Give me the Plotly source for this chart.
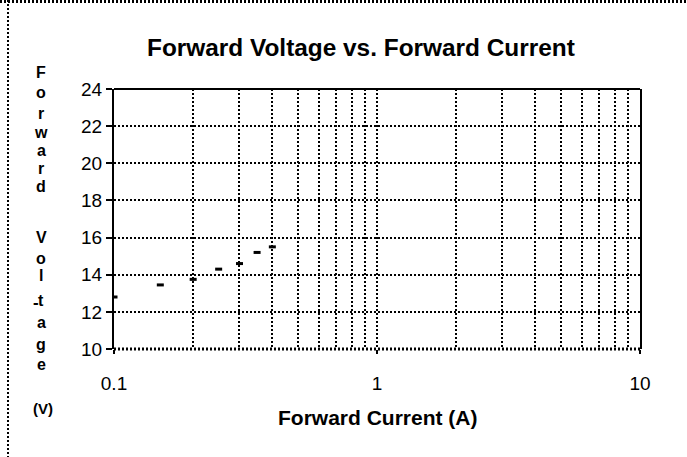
import plotly.graph_objects as go

# ---- data ----
current_a = [0.1, 0.15, 0.2, 0.25, 0.3, 0.35, 0.4]
voltage_v = [12.8, 13.45, 13.75, 14.3, 14.6, 15.2, 15.5]

x_tick_vals = [0.1, 1, 10]
x_tick_text = ["0.1", "1", "10"]
x_minor_vals = [m * 10 ** e for e in (-1, 0) for m in range(2, 10)]
y_tick_vals = [10, 12, 14, 16, 18, 20, 22, 24]

title_text = "Forward Voltage vs. Forward Current"
x_title = "Forward Current (A)"
y_title_letters = ["F", "o", "r", "w", "a", "r", "d", "V", "o", "l", "t", "a", "g", "e"]
y_title_centers = [72, 93, 113, 132, 150, 168, 186, 237, 258, 275, 300, 322, 344, 364]

# ---- layout geometry (pixels) ----
W, H = 687, 457
L, R, T, B = 114, 47, 89, 108
PW, PH = W - L - R, H - T - B


def px(x):
    return (x - L) / PW


def py(y):
    return (H - B - y) / PH


FONT = "Arial, 'Liberation Sans', sans-serif"
DOT = "2px,2px"

fig = go.Figure()
fig.add_trace(go.Scatter(
    x=current_a, y=voltage_v, mode="markers",
    marker=dict(symbol="line-ew", size=5, color="black",
                line=dict(width=3, color="black")),
    showlegend=False, hoverinfo="skip",
))

annotations = []
for ch, yc in zip(y_title_letters, y_title_centers):
    annotations.append(dict(text=f"<b>{ch}</b>", x=px(41), y=py(yc), xref="paper", yref="paper",
                            xanchor="center", yanchor="middle", showarrow=False,
                            font=dict(family=FONT, size=16, color="black")))
annotations.append(dict(text="<b>-</b>", x=px(36), y=py(302), xref="paper", yref="paper",
                        xanchor="center", yanchor="middle", showarrow=False,
                        font=dict(family=FONT, size=17, color="black")))
annotations.append(dict(text="<b>(V)</b>", x=px(43), y=py(408), xref="paper", yref="paper",
                        xanchor="center", yanchor="middle", showarrow=False,
                        font=dict(family=FONT, size=15, color="black")))
annotations.append(dict(text=f"<b>{x_title}</b>", x=px(378), y=py(417), xref="paper", yref="paper",
                        xanchor="center", yanchor="middle", showarrow=False,
                        font=dict(family=FONT, size=21, color="black")))
annotations.append(dict(text=f"<b>{title_text}</b>", x=px(361), y=py(48), xref="paper", yref="paper",
                        xanchor="center", yanchor="middle", showarrow=False,
                        font=dict(family=FONT, size=24.4, color="black")))

shapes = [
    # plot top border (solid)
    dict(type="line", xref="paper", yref="paper", x0=0, x1=1, y0=1, y1=1,
         line=dict(color="black", width=2)),
    # plot bottom border (thick dotted)
    dict(type="line", xref="paper", yref="paper", x0=0, x1=1, y0=0, y1=0,
         line=dict(color="black", width=3, dash=DOT)),
    # outer chart frame: top and left (dotted)
    dict(type="line", xref="paper", yref="paper", x0=px(0), x1=px(W), y0=py(1.5), y1=py(1.5),
         line=dict(color="black", width=3, dash=DOT)),
    dict(type="line", xref="paper", yref="paper", x0=px(8), x1=px(8), y0=py(0), y1=py(H),
         line=dict(color="black", width=2, dash=DOT)),
]

fig.update_layout(
    width=W, height=H,
    margin=dict(l=L, r=R, t=T, b=B),
    paper_bgcolor="white", plot_bgcolor="white",
    font=dict(family=FONT, color="black"),
    showlegend=False,
    annotations=annotations,
    shapes=shapes,
    xaxis=dict(
        type="log", range=[-1, 1],
        tickmode="array", tickvals=x_tick_vals, ticktext=x_tick_text,
        ticks="outside", ticklen=4, tickwidth=2, tickcolor="black",
        tickfont=dict(family=FONT, size=19, color="black"),
        ticklabelstandoff=13,
        showgrid=True, gridcolor="black", gridwidth=2, griddash=DOT,
        minor=dict(tickmode="array", tickvals=x_minor_vals, showgrid=True,
                   gridcolor="black", gridwidth=2, griddash=DOT, ticks=""),
        showline=False, zeroline=False,
    ),
    yaxis=dict(
        range=[10, 24], tickmode="array", tickvals=y_tick_vals,
        ticks="outside", ticklen=6, tickwidth=2, tickcolor="black",
        tickfont=dict(family=FONT, size=19, color="black"),
        showgrid=True, gridcolor="black", gridwidth=2, griddash=DOT,
        showline=True, mirror=True, linecolor="black", linewidth=2,
        zeroline=False,
    ),
)

fig.write_html("out.html", config={"displayModeBar": False},
               post_script="document.body.style.margin='0';")
